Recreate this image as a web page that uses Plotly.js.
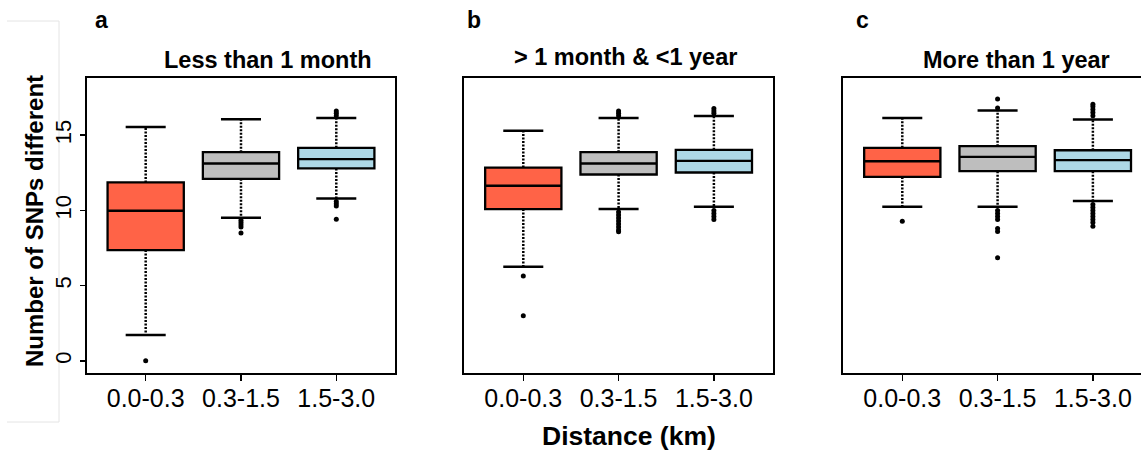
<!DOCTYPE html>
<html>
<head>
<meta charset="utf-8">
<script src="https://cdn.plot.ly/plotly-3.0.1.min.js"></script>
<style>html,body{margin:0;padding:0;background:#fff;overflow:hidden}</style>
</head>
<body>
<div id="chart" style="width:1141px;height:454px"></div>
<script>
// ---------------- data ----------------
const categories = ['0.0-0.3', '0.3-1.5', '1.5-3.0'];
const panelTitles = ['Less than 1 month', '> 1 month & <1 year', 'More than 1 year'];
const panelLetters = ['a', 'b', 'c'];
const boxColors = ['#FF6347', '#BEBEBE', '#ADD8E6'];
const yTickVals = [0, 5, 10, 15];

// Panel a: Less than 1 month
const aLowerWhisker = [1.73, 9.51, 10.8];
const aQ1 = [7.37, 12.10, 12.79];
const aMedian = [9.98, 13.12, 13.41];
const aQ3 = [11.86, 13.87, 14.16];
const aUpperWhisker = [15.55, 16.06, 16.15];
const aOutliers = [
  [0.02],
  [9.35, 9.2, 9.05, 8.9, 8.5],
  [16.3, 16.45, 16.6, 10.6, 10.45, 10.3, 9.42]
];

// Panel b: > 1 month & <1 year
const bLowerWhisker = [6.26, 10.09, 10.24];
const bQ1 = [10.09, 12.39, 12.52];
const bMedian = [11.64, 13.12, 13.30];
const bQ3 = [12.85, 13.87, 14.03];
const bUpperWhisker = [15.29, 16.15, 16.28];
const bOutliers = [
  [5.64, 3.01],
  [16.3, 16.45, 16.6, 9.9, 9.7, 9.5, 9.3, 9.1, 8.9, 8.7, 8.58],
  [16.45, 16.6, 16.77, 10.0, 9.8, 9.6, 9.4]
];

// Panel c: More than 1 year
const cLowerWhisker = [10.24, 10.24, 10.62];
const cQ1 = [12.23, 12.61, 12.61];
const cMedian = [13.27, 13.56, 13.34];
const cQ3 = [14.16, 14.27, 14.0];
const cUpperWhisker = [16.15, 16.64, 16.04];
const cOutliers = [
  [9.29],
  [16.8, 17.4, 10.0, 9.8, 9.6, 9.4, 8.8, 8.6, 6.86],
  [16.3, 16.5, 16.7, 16.9, 17.05, 10.4, 10.2, 10.0, 9.8, 9.6, 9.4, 9.2, 8.95]
];

const panels = [
  {lw: aLowerWhisker, q1: aQ1, med: aMedian, q3: aQ3, uw: aUpperWhisker, out: aOutliers},
  {lw: bLowerWhisker, q1: bQ1, med: bMedian, q3: bQ3, uw: bUpperWhisker, out: bOutliers},
  {lw: cLowerWhisker, q1: cQ1, med: cMedian, q3: cQ3, uw: cUpperWhisker, out: cOutliers}
];

// ---------------- layout constants (pixels) ----------------
const W = 1141, H = 454;
const FONT = 'Liberation Sans, Arial, Helvetica, sans-serif';
const panelLeftPx = [86.6, 464.2, 843.2];
const pxPerUnit = 95.3;          // px per category step
const xPad = 0.62;               // axis extends this far beyond first/last category
const plotTopPx = 78, plotBottomPx = 373;
const capHalf = 0.21;
const boxWidth = 0.8;

const traces = [];
const layout = {
  width: W, height: H,
  margin: {l: 0, r: 0, t: 0, b: 0},
  paper_bgcolor: '#fff', plot_bgcolor: '#fff',
  showlegend: false,
  font: {family: FONT, color: '#000'},
  annotations: [],
  shapes: []
};

const yDomain = [(H - plotBottomPx) / H, (H - plotTopPx) / H];

panels.forEach((p, i) => {
  const xa = 'x' + (i + 1), ya = 'y' + (i + 1);
  const axSuffix = i === 0 ? '' : String(i + 1);
  const leftPx = panelLeftPx[i];
  const fullRightPx = leftPx + pxPerUnit * (categories.length - 1 + 2 * xPad);
  const rightPx = Math.min(fullRightPx, W);
  const rangeMax = -xPad + (rightPx - leftPx) / pxPerUnit;

  layout['xaxis' + axSuffix] = {
    domain: [leftPx / W, rightPx / W],
    range: [-xPad, rangeMax],
    anchor: ya,
    tickmode: 'array',
    tickvals: categories.map((c, j) => j),
    ticktext: categories,
    ticks: 'outside', ticklen: 6, tickwidth: 1.5, tickcolor: '#000',
    ticklabelstandoff: -4,
    tickfont: {family: FONT, size: 25, color: '#000'},
    showline: true, linecolor: '#000', linewidth: 2, mirror: true,
    showgrid: false, zeroline: false, fixedrange: true
  };
  layout['yaxis' + axSuffix] = {
    domain: yDomain,
    range: [-0.8, 18.8],
    anchor: xa,
    tickmode: 'array',
    tickvals: yTickVals,
    ticktext: yTickVals.map(String),
    ticks: i === 0 ? 'outside' : '',
    ticklen: 5, tickwidth: 1.5, tickcolor: '#000',
    showticklabels: i === 0,
    tickangle: -90,
    tickfont: {family: FONT, size: 22, color: '#000'},
    showline: true, linecolor: '#000', linewidth: 2, mirror: i < 2,
    showgrid: false, zeroline: false, fixedrange: true
  };

  categories.forEach((cat, j) => {
    // box (no whiskers: fences at the hinges)
    traces.push({
      type: 'box', xaxis: xa, yaxis: ya,
      x: [j], q1: [p.q1[j]], median: [p.med[j]], q3: [p.q3[j]],
      lowerfence: [p.q1[j]], upperfence: [p.q3[j]],
      width: boxWidth, whiskerwidth: 0,
      fillcolor: boxColors[j],
      line: {color: '#000', width: 2.3},
      boxpoints: false, hoverinfo: 'skip', name: cat
    });
    // dotted whiskers
    traces.push({
      type: 'scatter', mode: 'lines', xaxis: xa, yaxis: ya,
      x: [j, j, null, j, j],
      y: [p.q3[j], p.uw[j], null, p.q1[j], p.lw[j]],
      line: {color: '#000', width: 2.5, dash: '2px,1.5px'},
      hoverinfo: 'skip'
    });
    // whisker caps
    traces.push({
      type: 'scatter', mode: 'lines', xaxis: xa, yaxis: ya,
      x: [j - capHalf, j + capHalf, null, j - capHalf, j + capHalf],
      y: [p.uw[j], p.uw[j], null, p.lw[j], p.lw[j]],
      line: {color: '#000', width: 2.5},
      hoverinfo: 'skip'
    });
    // outliers
    traces.push({
      type: 'scatter', mode: 'markers', xaxis: xa, yaxis: ya,
      x: p.out[j].map(() => j),
      y: p.out[j],
      marker: {color: '#000', size: 5},
      hoverinfo: 'skip'
    });
  });
});

// ---------------- text ----------------
const px2x = v => v / W;
const py2y = v => 1 - v / H;
const letterPos = [[101, 20], [474, 20], [862, 20]];
const titlePos = [[268, 60], [625, 57], [1017, 60]];
panels.forEach((p, i) => {
  layout.annotations.push({
    text: '<b>' + panelLetters[i] + '</b>', xref: 'paper', yref: 'paper',
    x: px2x(letterPos[i][0]), y: py2y(letterPos[i][1]),
    xanchor: 'center', yanchor: 'middle', showarrow: false,
    font: {family: FONT, size: 23, color: '#000'}
  });
  layout.annotations.push({
    text: '<b>' + panelTitles[i].replace(/&/g, '&amp;').replace(/</g, '&lt;').replace(/>/g, '&gt;') + '</b>',
    xref: 'paper', yref: 'paper',
    x: px2x(titlePos[i][0]), y: py2y(titlePos[i][1]),
    xanchor: 'center', yanchor: 'middle', showarrow: false,
    font: {family: FONT, size: 23.5, color: '#000'}
  });
});
layout.annotations.push({
  text: '<b>Number of SNPs different</b>', xref: 'paper', yref: 'paper',
  x: px2x(34), y: py2y(221), textangle: -90,
  xanchor: 'center', yanchor: 'middle', showarrow: false,
  font: {family: FONT, size: 24, color: '#000'}
});
layout.annotations.push({
  text: '<b>Distance (km)</b>', xref: 'paper', yref: 'paper',
  x: px2x(629), y: py2y(436),
  xanchor: 'center', yanchor: 'middle', showarrow: false,
  font: {family: FONT, size: 26.5, color: '#000'}
});

// faint frame around the left margin (scan artefact)
layout.shapes.push({
  type: 'path', xref: 'paper', yref: 'paper',
  path: 'M ' + px2x(7) + ' ' + py2y(21) + ' L ' + px2x(59) + ' ' + py2y(21) +
        ' L ' + px2x(59) + ' ' + py2y(422) + ' L ' + px2x(7) + ' ' + py2y(422),
  line: {color: '#e4e4e4', width: 1}, layer: 'below'
});

Plotly.newPlot('chart', traces, layout, {displayModeBar: false, staticPlot: true});
</script>
</body>
</html>
